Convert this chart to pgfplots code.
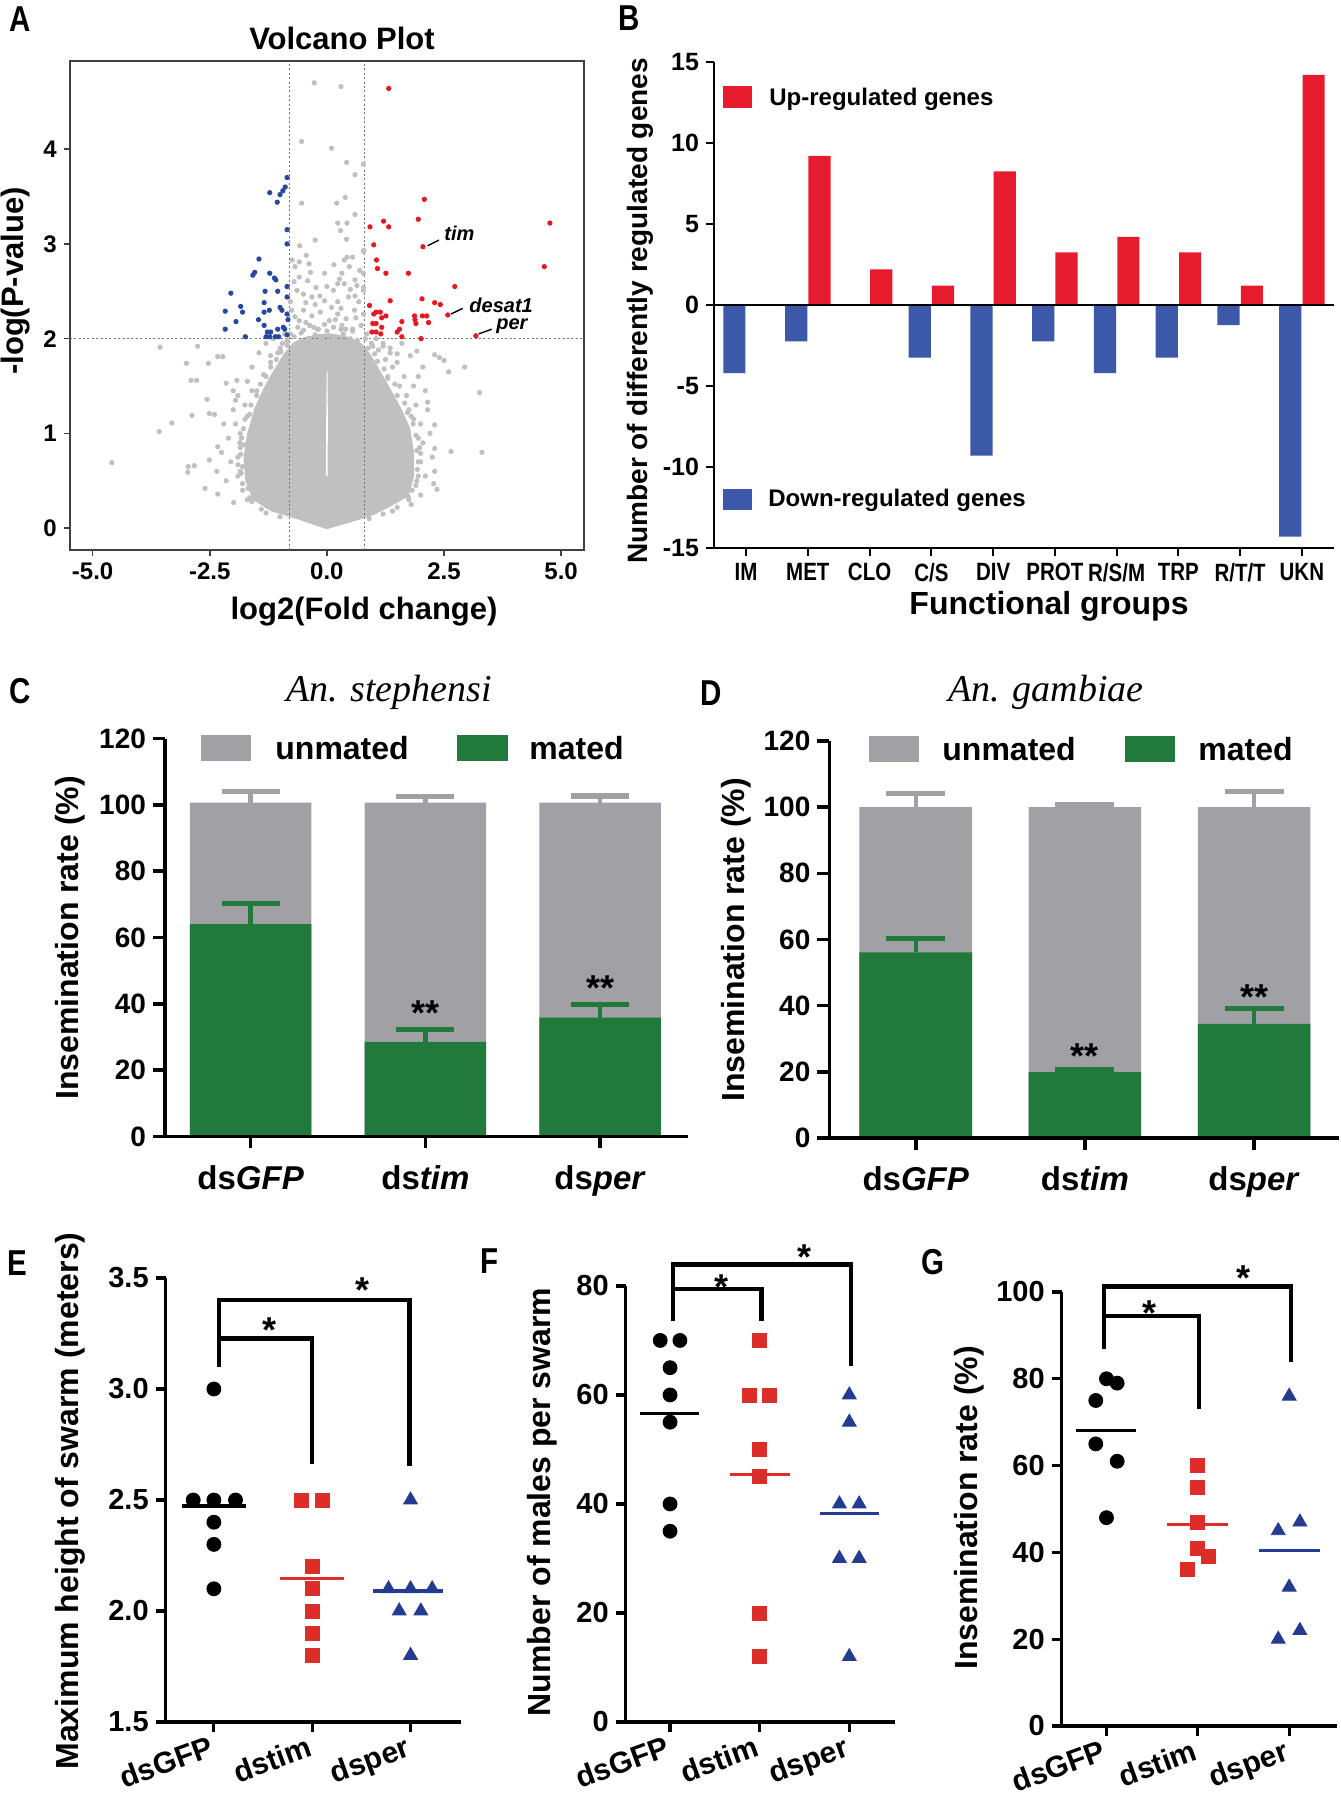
\documentclass[border=0pt]{standalone}
\usepackage{fontspec}
\setmainfont{Liberation Sans}
\newfontfamily\tms{Liberation Serif}
\newfontfamily\narrow{Liberation Sans}[FakeStretch=0.82]
\usepackage{pgfplots}
\pgfplotsset{compat=1.18}
\newcommand\fs[1]{\fontsize{#1}{#1}\selectfont\bfseries}

\definecolor{cpt}{RGB}{192,192,192}
\definecolor{ablue}{RGB}{38,72,160}
\definecolor{ared}{RGB}{230,25,35}
\definecolor{bred}{RGB}{230,28,46}
\definecolor{bblue}{RGB}{59,89,168}
\definecolor{cgray}{RGB}{160,160,165}
\definecolor{cgreen}{RGB}{33,122,60}
\definecolor{ered}{RGB}{220,45,40}
\definecolor{eblue}{RGB}{35,60,145}

\pgfplotsset{
  barax/.style={scale only axis, anchor=south west, clip=false, axis on top,
    axis x line*=bottom, axis y line*=left, axis line style={line width=1.8pt},
    x axis line style={shorten <=-6pt},
    tick align=outside, major tick length=6pt, tick style={line width=1.8pt, black},
    ymin=0, ymax=120, ytick={0,20,40,60,80,100,120}, yticklabels={0,20,40,60,80,100,120},
    xtick={0,1,2}, xticklabels={ds\textit{GFP},ds\textit{tim},ds\textit{per}},
    yticklabel style={font=\fs{14}}, xticklabel style={font=\fs{16.5}, yshift=-5pt},
    ybar, bar shift=0pt},
  dotax/.style={scale only axis, anchor=south west, clip=false,
    axis x line*=bottom, axis y line*=left, axis line style={line width=1.6pt},
    x axis line style={shorten <=-5pt},
    tick align=outside, major tick length=5pt, tick style={line width=1.6pt, black},
    xtick={0,1,2}, xticklabels={dsGFP,dstim,dsper},
    yticklabel style={font=\fs{14.5}},
    xticklabel style={font=\fs{15}, rotate=20, anchor=north east, yshift=3pt}},
  brk/.style={black, line width=2.2pt, mark=none, line join=miter},
  es/.style={sharp plot, mark=none, line width=2.2pt},
  ec/.style={sharp plot, mark=none, line width=2.6pt},
}

\begin{document}
\begin{tikzpicture}
\useasboundingbox (0,0) rectangle (670pt,900pt);

% ---------------- A: volcano plot
\begin{axis}[at={(34.85pt,625pt)}, anchor=south west, scale only axis,
  width=257.2pt, height=244.5pt,
  xmin=-5.49, xmax=5.49, ymin=-0.23, ymax=4.93,
  axis line style={draw=black!75, line width=0.8pt},
  xtick={-5,-2.5,0,2.5,5}, xticklabels={-5.0,-2.5,0.0,2.5,5.0},
  ytick={0,1,2,3,4}, yticklabels={0,1,2,3,4},
  tick align=outside, xtick pos=left, ytick pos=left, major tick length=3pt,
  tick style={black!75, line width=0.8pt},
  tick label style={font=\fs{12}}]
\addplot[fill=cpt, draw=none, mark=none] coordinates {
 (0,-0.01)(0.5,0.06)(1.0,0.14)(1.4,0.24)(1.75,0.34)(1.86,0.55)(1.86,0.8)(1.78,1.05)
 (1.6,1.25)(1.38,1.45)(1.15,1.65)(0.95,1.82)(0.75,1.95)(0.45,2.02)(0.15,2.05)
 (-0.15,2.05)(-0.45,2.02)(-0.72,1.96)(-0.92,1.84)(-1.12,1.68)(-1.35,1.48)(-1.55,1.26)
 (-1.7,1.0)(-1.78,0.75)(-1.74,0.5)(-1.58,0.3)(-1.2,0.18)(-0.6,0.09)(-0.25,0.03)} -- cycle;
\addplot[only marks, mark=*, mark size=1.1pt, color=cpt] coordinates {
 (-0.27,4.70)(0.30,4.66)(-0.54,4.08)(0.10,4.01)(0.42,3.86)(0.78,3.84)(0.60,3.73)
 (-0.54,3.43)(0.21,3.43)(0.39,3.49)(0.60,3.31)(0.23,3.22)(0.29,3.14)(0.43,3.22)
 (-0.25,3.04)(-0.58,2.98)(0.42,3.05)(0.79,2.93)
 (-0.74,2.83)(-0.59,2.81)(-0.68,2.76)(-0.44,2.88)(-0.38,2.79)(0.37,2.83)(0.43,2.86)
 (0.55,2.86)(0.48,2.76)(0.32,2.69)(0.27,2.63)(0.23,2.58)(0.37,2.58)(0.14,2.51)
 (-0.59,2.65)(-0.41,2.61)(-0.23,2.54)(-0.64,2.51)(-0.5,2.47)(-0.32,2.44)(-0.05,2.40)
 (0.23,2.39)(0.46,2.44)(0.68,2.39)(0.78,2.26)(0.59,2.30)(0.41,2.21)(0.23,2.26)
 (0.05,2.19)(-0.14,2.28)(-0.32,2.24)(-0.5,2.30)(-0.68,2.23)(-0.59,2.19)(-0.37,2.14)
 (-0.18,2.10)(0.14,2.12)(0.32,2.14)(0.55,2.10)(0.73,2.14)(-0.78,2.39)(0.64,2.56)
 (0.78,2.54)(-0.05,2.69)(0.78,2.51)(0.78,2.69)(0.78,2.92)(0.6,2.62)(-0.7,2.6)
 (0.1,2.33)(-0.25,2.36)(0.5,2.52)
 (-0.85,1.98)(-0.7,2.02)(-0.55,2.06)(-0.4,2.0)(-0.25,2.04)(-0.1,1.98)(0.05,2.03)
 (0.2,1.99)(0.35,2.05)(0.5,2.0)(0.65,1.98)(-0.62,2.12)(-0.45,2.17)(-0.28,2.12)
 (-0.05,2.15)(0.18,2.2)(0.4,2.1)(0.62,2.22)(-0.75,2.3)(-0.15,2.45)(0.3,2.32)
 (0.6,2.45)(-0.45,2.38)(0.0,2.55)(-0.35,2.7)(0.15,2.78)(0.7,2.72)
 (-1.65,1.2)(-1.5,1.45)(-1.35,1.62)(-1.2,1.82)(-1.05,1.85)(-0.95,1.95)(-1.82,0.95)
 (-1.9,0.75)(-1.85,0.6)(-1.6,0.28)(1.75,1.25)(1.55,1.5)(1.4,1.7)(1.25,1.78)
 (1.1,1.88)(0.98,1.92)(1.95,0.95)(2.0,0.7)(1.95,0.55)(1.75,0.3)(1.4,0.18)
 (-1.3,0.16)(-1.15,1.6)(1.3,1.6)(-1.75,1.15)(1.85,1.15)
 (-1.65,0.32)(-1.8,0.47)(-1.83,0.58)(-1.84,0.78)(-1.86,0.9)(-1.78,1.05)(-1.7,1.18)
 (-1.62,1.3)(-1.5,1.4)(-1.42,1.52)(-1.3,1.6)(-1.2,1.7)(-1.08,1.78)(-0.98,1.86)
 (-0.85,1.93)(-0.78,2.05)(-1.68,0.42)(-1.9,0.67)(-1.76,0.88)
 (1.82,0.4)(1.92,0.5)(1.93,0.62)(1.92,0.82)(1.9,0.98)(1.84,1.1)(1.72,1.22)
 (1.66,1.32)(1.5,1.4)(1.45,1.52)(1.3,1.58)(1.22,1.68)(1.08,1.76)(1.02,1.84)
 (0.88,1.9)(0.82,2.0)(1.98,0.85)(1.8,1.18)
 (0.55,2.08)(0.3,2.1)(-0.2,2.1)(-0.5,2.09)(0.0,2.08)
 (-3.56,1.91)(-2.76,1.92)(-3.0,1.74)(-2.53,1.74)(-2.33,1.81)(-2.22,1.81)(-2.78,1.56)
 (-2.9,1.56)(-2.56,1.36)(-2.15,1.53)(-3.31,1.11)(-3.58,1.02)(-2.88,1.19)(-2.51,1.21)
 (-4.59,0.69)(-2.96,0.65)(-2.83,0.66)(-2.97,0.59)(-2.51,0.72)(-2.6,0.42)(-2.33,0.36)
 (-1.99,0.27)(-2.33,0.86)(-1.92,1.56)(-2.0,1.45)(-1.95,1.35)
 (-1.9,1.4)(-2.0,1.25)(-1.95,1.1)(-2.1,0.95)(-1.85,0.85)(-2.05,0.7)(-1.9,0.55)
 (-2.15,0.5)(-1.8,0.4)(-2.2,1.1)(-2.25,0.8)(-1.7,1.55)(-1.6,1.7)(-1.45,1.85)
 (-1.3,1.95)(-1.15,2.0)(-1.75,1.3)(-2.35,0.6)(-2.4,1.2)(-1.6,1.45)(-1.4,0.2)
 (-1.0,0.12)(-1.7,0.3)(-1.2,1.75)(-1.0,1.9)(-0.9,2.05)(-1.85,1.0)(-1.8,0.65)
 (2.94,1.70)(2.6,1.65)(2.5,1.77)(2.4,1.8)(2.3,1.83)(3.26,1.43)(2.65,0.81)(3.31,0.80)
 (2.3,0.84)(2.3,1.09)(2.15,1.33)(2.28,0.47)(2.35,0.41)(2.0,0.79)(1.74,0.33)(1.5,1.84)
 (1.78,1.82)(1.92,1.87)(1.2,1.92)(1.35,1.9)(2.05,1.70)
 (1.9,1.3)(2.0,1.1)(2.05,0.9)(1.95,0.7)(2.1,0.55)(1.9,0.45)(2.2,1.0)(1.85,1.5)
 (1.65,1.6)(1.5,1.75)(1.35,1.85)(1.2,1.95)(1.05,2.0)(2.25,0.75)(2.15,1.25)(1.7,1.4)
 (2.3,0.6)(1.95,1.6)(2.0,0.35)(1.8,0.25)(1.2,0.15)(0.9,0.1)(1.5,0.22)(0.95,1.95)
 (0.85,2.05)(2.1,1.45)(1.6,1.95)};
\addplot[fill=white, draw=none, mark=none] coordinates {
 (-0.015,0.55)(0.015,0.55)(0.02,1.1)(0.015,1.65)(-0.005,1.65)(-0.015,1.1)} -- cycle;
\addplot[black!55, line width=0.6pt, dash pattern=on 1pt off 1.2pt, mark=none] coordinates {(-0.8,-0.23)(-0.8,4.93)};
\addplot[black!55, line width=0.6pt, dash pattern=on 1pt off 1.2pt, mark=none] coordinates {(0.8,-0.23)(0.8,4.93)};
\addplot[black!55, line width=0.6pt, dash pattern=on 1pt off 1.2pt, mark=none] coordinates {(-5.49,2)(5.49,2)};
\addplot[only marks, mark=*, mark size=1.1pt, color=ablue] coordinates {
 (-0.85,3.70)(-0.89,3.60)(-0.94,3.56)(-1.0,3.52)(-1.22,3.54)(-1.06,3.44)(-0.85,3.15)
 (-0.85,3.00)(-1.45,2.84)(-1.54,2.70)(-1.58,2.67)(-1.22,2.69)(-1.12,2.64)(-1.09,2.62)
 (-0.85,2.55)(-2.05,2.48)(-1.32,2.50)(-1.05,2.50)(-0.85,2.44)(-1.34,2.38)(-1.84,2.34)
 (-1.8,2.28)(-2.17,2.29)(-1.23,2.30)(-1.34,2.28)(-1.0,2.33)(-0.96,2.30)(-0.85,2.26)
 (-1.46,2.20)(-1.94,2.18)(-1.34,2.14)(-1.05,2.10)(-0.93,2.12)(-2.17,2.10)(-1.74,2.02)
 (-1.27,2.07)(-1.2,2.07)(-1.3,2.02)(-1.22,2.02)(-1.1,2.02)(-1.03,2.02)(-0.9,2.1)
 (-0.85,2.04)(-0.83,2.2)};
\addplot[only marks, mark=*, mark size=1.1pt, color=ared] coordinates {
 (1.32,4.64)(2.08,3.47)(1.95,3.26)(1.21,3.24)(1.32,3.18)(0.92,3.18)(4.76,3.22)
 (2.05,2.97)(1.00,2.99)(1.06,2.83)(1.08,2.74)(1.26,2.69)(1.74,2.69)(4.64,2.76)
 (2.73,2.55)(2.03,2.42)(1.35,2.40)(2.30,2.38)(2.42,2.36)(0.91,2.35)(2.58,2.25)
 (1.00,2.26)(1.05,2.28)(1.17,2.22)(1.26,2.24)(1.87,2.24)(2.04,2.24)(2.13,2.24)
 (1.60,2.18)(1.90,2.16)(2.17,2.17)(0.98,2.16)(1.05,2.16)(1.17,2.12)(1.14,2.28)
 (0.96,2.07)(1.05,2.07)(1.15,2.05)(1.5,2.07)(1.6,2.02)(1.88,2.2)(2.01,2.0)
 (3.18,2.03)(1.55,2.1)};
\draw[black, line width=0.7pt] (axis cs:2.15,2.98) -- (axis cs:2.39,3.04);
\draw[black, line width=0.7pt] (axis cs:2.65,2.26) -- (axis cs:2.9,2.32);
\draw[black, line width=0.7pt] (axis cs:3.24,2.05) -- (axis cs:3.52,2.10);
\node[font=\fs{10}\itshape] at (axis cs:2.83,3.11) {tim};
\node[font=\fs{10}\itshape] at (axis cs:3.72,2.35) {desat1};
\node[font=\fs{10}\itshape] at (axis cs:3.95,2.13) {per};
\end{axis}

% ---------------- B: functional groups
\begin{axis}[at={(357pt,626pt)}, anchor=south west, scale only axis,
  width=310pt, height=243pt, clip=false,
  xmin=-0.52, xmax=9.52, ymin=-15, ymax=15,
  axis x line*=bottom, axis y line*=left, axis line style={line width=1pt},
  ytick={-15,-10,-5,0,5,10,15}, yticklabels={-15,-10,-5,0,5,10,15},
  xtick={0,1,2,3,4,5,6,7,8,9},
  xticklabels={IM,MET,CLO,C/S,DIV,PROT,R/S/M,TRP,R/T/T,UKN},
  tick align=outside, major tick length=4pt, tick style={line width=1pt, black},
  yticklabel style={font=\fs{12.5}}, xticklabel style={font=\narrow\fs{12.5}},
  ybar, bar width=0.36]
\addplot[fill=bblue, draw=none, bar shift=-0.19] coordinates {
 (0,-4.2)(1,-2.25)(3,-3.25)(4,-9.3)(5,-2.25)(6,-4.2)(7,-3.25)(8,-1.25)(9,-14.3)};
\addplot[fill=bred, draw=none, bar shift=0.19] coordinates {
 (1,9.2)(2,2.2)(3,1.2)(4,8.25)(5,3.25)(6,4.2)(7,3.25)(8,1.2)(9,14.2)};
\addplot[sharp plot, black, line width=1pt, mark=none] coordinates {(-0.52,0)(9.52,0)};
\end{axis}

% ---------------- C: An. stephensi
\begin{axis}[barax, at={(82.5pt,331.8pt)}, width=261.25pt, height=198.9pt,
  xmin=-0.49, xmax=2.5, bar width=0.694]
\addplot[fill=cgray, draw=none] coordinates {(0,100.7)(1,100.7)(2,100.7)};
\addplot[fill=cgreen, draw=none] coordinates {(0,64.0)(1,28.5)(2,35.8)};
\addplot[es, cgray] coordinates {(0,100.7)(0,104.0)};
\addplot[ec, cgray] coordinates {(-0.166,104.0)(0.166,104.0)};
\addplot[es, cgray] coordinates {(1,100.7)(1,102.5)};
\addplot[ec, cgray] coordinates {(0.834,102.5)(1.166,102.5)};
\addplot[es, cgray] coordinates {(2,100.7)(2,102.7)};
\addplot[ec, cgray] coordinates {(1.834,102.7)(2.166,102.7)};
\addplot[es, cgreen] coordinates {(0,64.0)(0,70.2)};
\addplot[ec, cgreen] coordinates {(-0.166,70.2)(0.166,70.2)};
\addplot[es, cgreen] coordinates {(1,28.5)(1,32.3)};
\addplot[ec, cgreen] coordinates {(0.834,32.3)(1.166,32.3)};
\addplot[es, cgreen] coordinates {(2,35.8)(2,39.9)};
\addplot[ec, cgreen] coordinates {(1.834,39.9)(2.166,39.9)};
\node[font=\fs{18}] at (axis cs:1,37.2) {**};
\node[font=\fs{18}] at (axis cs:2,44.7) {**};
\end{axis}

% ---------------- D: An. gambiae
\begin{axis}[barax, at={(414.7pt,331pt)}, width=254.65pt, height=198.5pt,
  xmin=-0.51, xmax=2.5, bar width=0.666]
\addplot[fill=cgray, draw=none] coordinates {(0,100)(1,100)(2,100)};
\addplot[fill=cgreen, draw=none] coordinates {(0,56.1)(1,19.9)(2,34.5)};
\addplot[es, cgray] coordinates {(0,100)(0,104.1)};
\addplot[ec, cgray] coordinates {(-0.174,104.1)(0.174,104.1)};
\addplot[es, cgray] coordinates {(1,100)(1,100.9)};
\addplot[ec, cgray] coordinates {(0.826,100.9)(1.174,100.9)};
\addplot[es, cgray] coordinates {(2,100)(2,104.8)};
\addplot[ec, cgray] coordinates {(1.826,104.8)(2.174,104.8)};
\addplot[es, cgreen] coordinates {(0,56.1)(0,60.3)};
\addplot[ec, cgreen] coordinates {(-0.174,60.3)(0.174,60.3)};
\addplot[es, cgreen] coordinates {(1,19.9)(1,20.7)};
\addplot[ec, cgreen] coordinates {(0.826,20.7)(1.174,20.7)};
\addplot[es, cgreen] coordinates {(2,34.5)(2,39.1)};
\addplot[ec, cgreen] coordinates {(1.826,39.1)(2.174,39.1)};
\node[font=\fs{18}] at (axis cs:1,24.9) {**};
\node[font=\fs{18}] at (axis cs:2,42.7) {**};
\end{axis}

% ---------------- E: swarm height
\begin{axis}[dotax, at={(82.85pt,39pt)}, width=147.5pt, height=222pt,
  xmin=-0.49, xmax=2.51, ymin=1.5, ymax=3.5,
  ytick={1.5,2,2.5,3,3.5}, yticklabels={1.5,2.0,2.5,3.0,3.5}]
\addplot[only marks, mark=*, mark size=3.5pt, black] coordinates {
 (0,3.0)(-0.21,2.5)(0,2.5)(0.22,2.5)(0,2.4)(0,2.3)(0,2.1)};
\addplot[only marks, mark=square*, mark size=3.5pt, ered] coordinates {
 (0.89,2.5)(1.105,2.5)(1,2.2)(1,2.1)(1,2.0)(1,1.9)(1,1.8)};
\addplot[only marks, mark=triangle*, mark size=4pt, eblue] coordinates {
 (2,2.5)(1.776,2.1)(2,2.1)(2.22,2.1)(1.885,2.0)(2.105,2.0)(2,1.8)};
\addplot[black, line width=1.6pt, mark=none] coordinates {(-0.326,2.473)(0.329,2.473)};
\addplot[ered, line width=1.6pt, mark=none] coordinates {(0.675,2.145)(1.327,2.145)};
\addplot[eblue, line width=1.6pt, mark=none] coordinates {(1.619,2.09)(2.328,2.09)};
\addplot[brk] coordinates {(0.05,3.10)(0.05,3.40)(1.99,3.40)(1.99,2.653)};
\addplot[brk] coordinates {(0.05,3.228)(1.0,3.228)(1.0,2.662)};
\node[font=\fs{18}] at (axis cs:0.57,3.266) {*};
\node[font=\fs{18}] at (axis cs:1.51,3.446) {*};
\end{axis}

% ---------------- F: males per swarm
\begin{axis}[dotax, at={(312.85pt,39pt)}, width=134.65pt, height=218.05pt,
  xmin=-0.495, xmax=2.51, ymin=0, ymax=80,
  ytick={0,20,40,60,80}, yticklabels={0,20,40,60,80}]
\addplot[only marks, mark=*, mark size=3.5pt, black] coordinates {
 (-0.11,70)(0.11,70)(0,65)(0,60)(0,55)(0,40)(0,35)};
\addplot[only marks, mark=square*, mark size=3.5pt, ered] coordinates {
 (1,70)(0.89,60)(1.11,60)(1,50)(1,45)(1,20)(1,12)};
\addplot[only marks, mark=triangle*, mark size=4pt, eblue] coordinates {
 (2,60)(2,55)(1.89,40)(2.11,40)(1.89,30)(2.11,30)(2,12)};
\addplot[black, line width=1.6pt, mark=none] coordinates {(-0.335,56.6)(0.328,56.6)};
\addplot[ered, line width=1.6pt, mark=none] coordinates {(0.67,45.4)(1.333,45.4)};
\addplot[eblue, line width=1.6pt, mark=none] coordinates {(1.676,38.3)(2.335,38.3)};
\addplot[brk] coordinates {(0.03,73.5)(0.03,83.9)(2.02,83.9)(2.02,65.3)};
\addplot[brk] coordinates {(0.03,79.4)(1.02,79.4)(1.02,73.5)};
\node[font=\fs{18}] at (axis cs:0.57,79.8) {*};
\node[font=\fs{18}] at (axis cs:1.5,85.2) {*};
\end{axis}

% ---------------- G: insemination rate
\begin{axis}[dotax, at={(530.85pt,37pt)}, width=137.5pt, height=217pt,
  xmin=-0.49, xmax=2.52, ymin=0, ymax=100,
  ytick={0,20,40,60,80,100}, yticklabels={0,20,40,60,80,100}]
\addplot[only marks, mark=*, mark size=3.5pt, black] coordinates {
 (0,80)(0.117,79)(-0.117,75)(-0.117,65)(0.117,61)(0,48)};
\addplot[only marks, mark=square*, mark size=3.5pt, ered] coordinates {
 (0.996,60)(0.996,55)(0.996,47)(0.996,41)(1.113,39)(0.883,36)};
\addplot[only marks, mark=triangle*, mark size=4pt, eblue] coordinates {
 (2,76)(1.88,45)(2.117,47)(2,32)(1.88,20)(2.117,22)};
\addplot[black, line width=1.6pt, mark=none] coordinates {(-0.336,68.0)(0.328,68.0)};
\addplot[ered, line width=1.6pt, mark=none] coordinates {(0.664,46.5)(1.332,46.5)};
\addplot[eblue, line width=1.6pt, mark=none] coordinates {(1.67,40.5)(2.336,40.5)};
\addplot[brk] coordinates {(-0.03,86.9)(-0.03,101.3)(2.02,101.3)(2.02,83.8)};
\addplot[brk] coordinates {(-0.03,94.4)(1.01,94.4)(1.01,73)};
\node[font=\fs{18}] at (axis cs:0.47,95.2) {*};
\node[font=\fs{18}] at (axis cs:1.5,103.2) {*};
\end{axis}

% ---------------- titles, labels, legends (pixel grid of the reference)
\begin{scope}[x=0.5pt, y=-0.5pt, yshift=900pt]
\foreach \l/\px/\py in {A/20/19, B/629/18, C/20/691, D/711/693, E/17/1263, F/490/1261, G/933/1262}
  \node[font=\narrow\fs{18}] at (\px,\py) {\l};
\node[font=\fs{15.5}] at (342,38) {Volcano Plot};
\node[font=\fs{15.5}] at (364,612) {log2(Fold change)};
\node[font=\fs{15.5}, rotate=90] at (16,281) {-log(P-value)};
\node[font=\fs{14}, rotate=90] at (640,311) {Number of differently regulated genes};
\node[font=\fs{16}] at (1049,606) {Functional groups};
\fill[bred] (723,86) rectangle (752,108);
\node[font=\fs{12}, anchor=west, inner sep=0pt] at (769,99) {Up-regulated genes};
\fill[bblue] (723,489) rectangle (752,510);
\node[font=\fs{12}, anchor=west, inner sep=0pt] at (768,500) {Down-regulated genes};
\node[font=\tms\itshape\fontsize{19}{19}\selectfont] at (389,692) {An. stephensi};
\node[font=\tms\itshape\fontsize{19}{19}\selectfont] at (1046,692) {An. gambiae};
\node[font=\fs{16}, rotate=90] at (70,938) {Insemination rate (\%)};
\node[font=\fs{16}, rotate=90] at (736,940) {Insemination rate (\%)};
\fill[cgray] (201,735) rectangle (251,761);
\node[font=\fs{16}, anchor=west, inner sep=0pt] at (275,748) {unmated};
\fill[cgreen] (457,735) rectangle (508,761);
\node[font=\fs{16}, anchor=west, inner sep=0pt] at (529,748) {mated};
\fill[cgray] (869,736) rectangle (919,762);
\node[font=\fs{16}, anchor=west, inner sep=0pt] at (942,749) {unmated};
\fill[cgreen] (1125,736) rectangle (1174.5,762);
\node[font=\fs{16}, anchor=west, inner sep=0pt] at (1198,749) {mated};
\node[font=\fs{16}, rotate=90] at (70,1501) {Maximum height of swarm (meters)};
\node[font=\fs{16}, rotate=90] at (542,1502) {Number of males per swarm};
\node[font=\fs{16}, rotate=90] at (969,1508) {Insemination rate (\%)};
\end{scope}
\end{tikzpicture}
\end{document}
